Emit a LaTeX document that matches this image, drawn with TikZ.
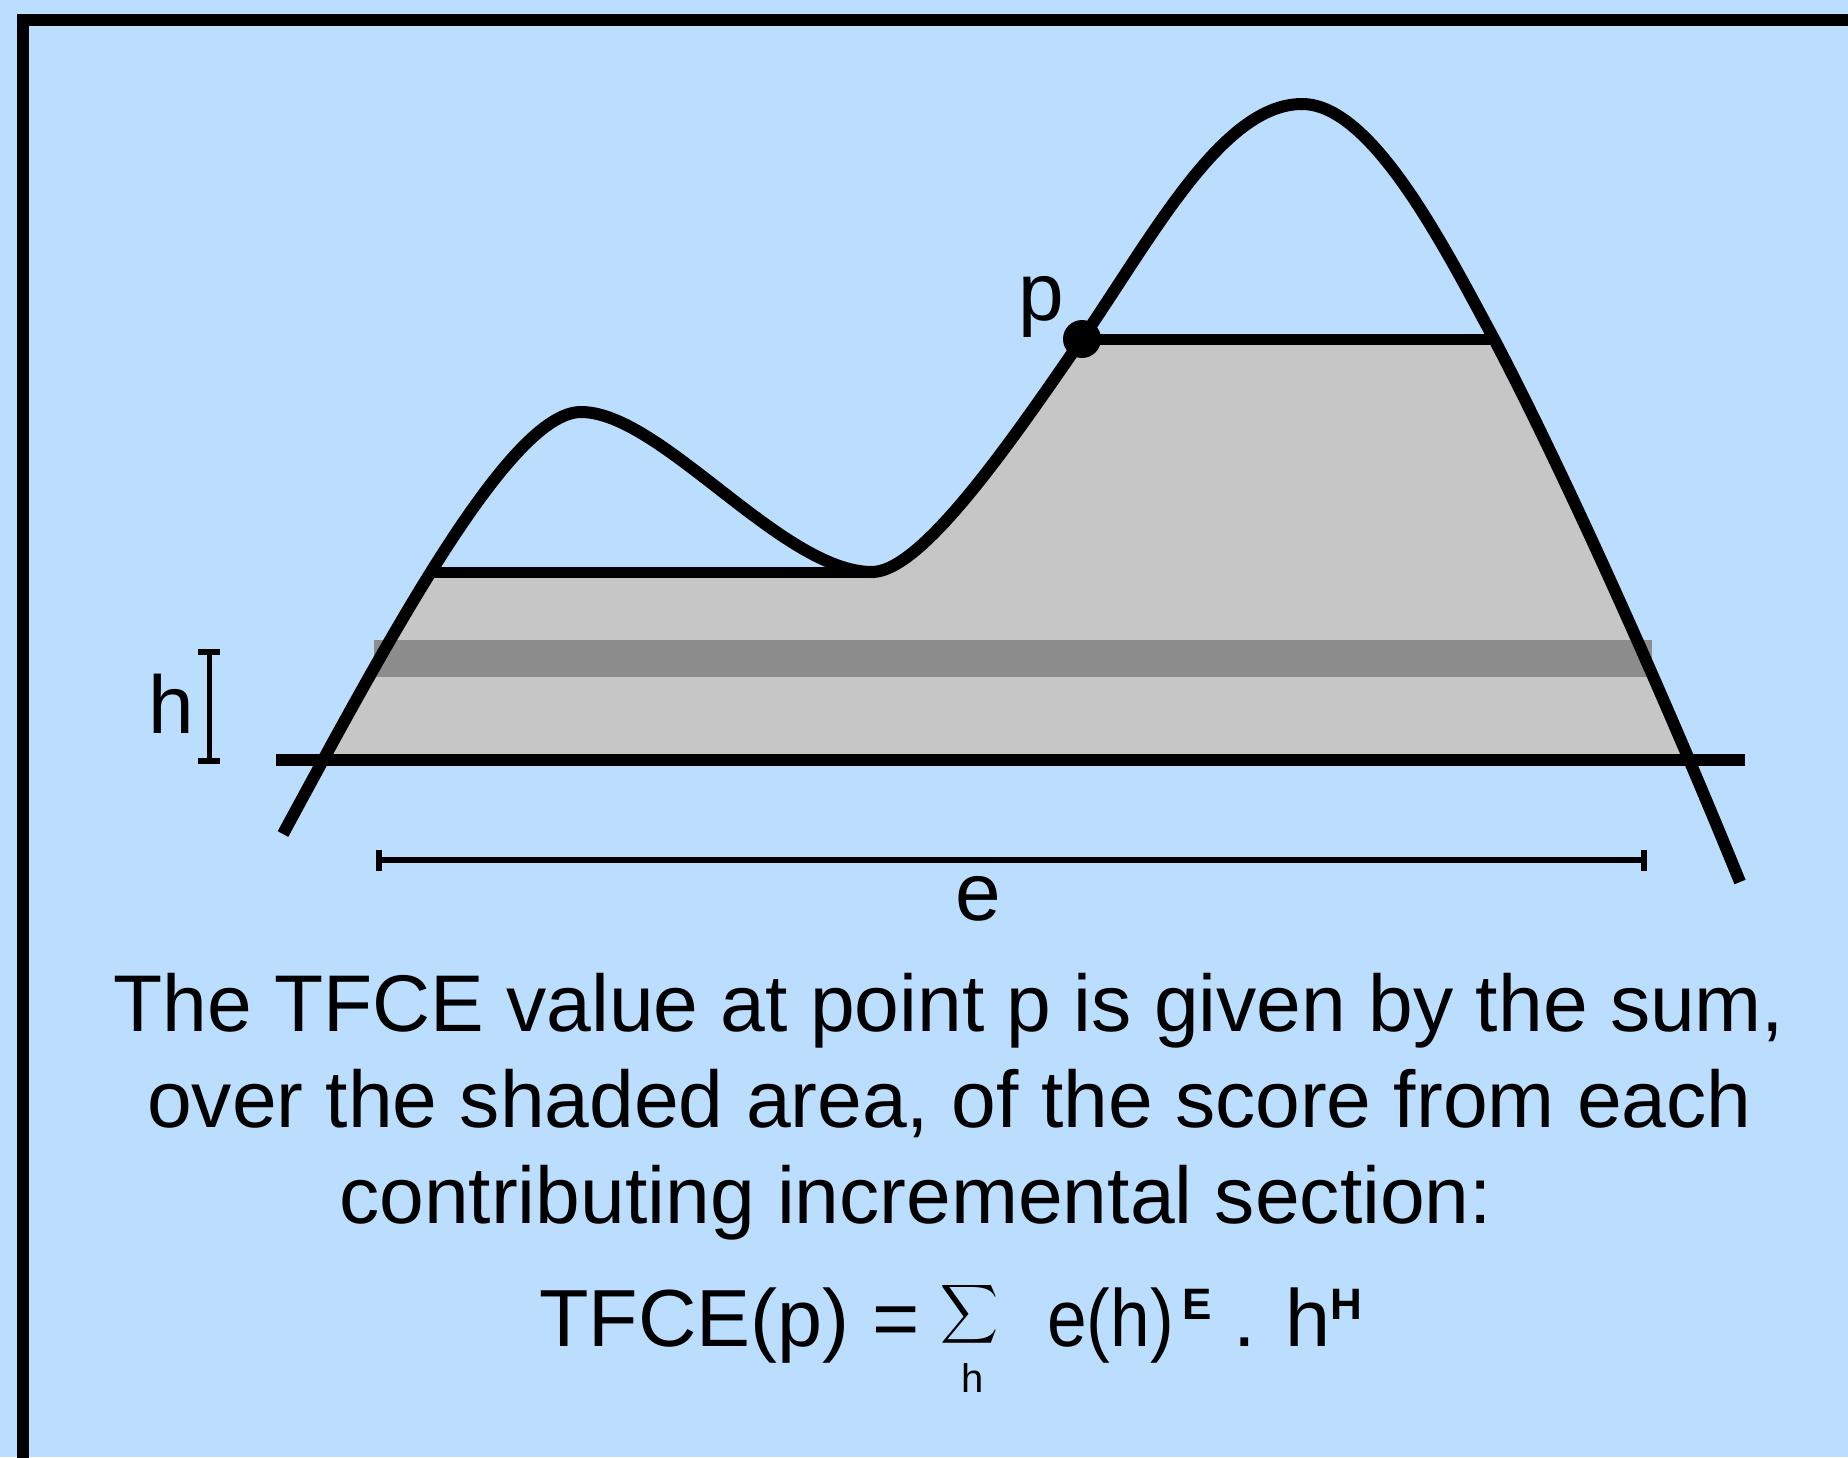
\documentclass[tikz,border=0pt]{standalone}
\usepackage{fontspec}
\setmainfont{Liberation Sans}
\usepackage{graphicx}
\definecolor{bgblue}{RGB}{188,222,254}
\definecolor{shadegray}{RGB}{198,198,198}
\definecolor{bandgray}{RGB}{141,141,141}
\begin{document}
\begin{tikzpicture}[x=1pt,y=-1pt,
  curveline/.style={line width=12pt, line join=round},
  levelline/.style={line width=11pt},
  lbl/.style={font=\fontsize{82}{98}\selectfont, inner sep=0pt},
  txt/.style={font=\fontsize{80.4}{97}\selectfont, inner sep=0pt},
  ftxt/.style={font=\fontsize{81}{97}\selectfont, inner sep=0pt},
  subtxt/.style={font=\fontsize{40}{40}\selectfont, inner sep=0pt},
  suptxt/.style={inner sep=0pt}]
\useasboundingbox (0,0) rectangle (1848,1457);
\clip (0,0) rectangle (1848,1457);
\fill[bgblue] (0,0) rectangle (1848,1457);
% frame
\draw[line width=12pt, line join=miter] (23.3,1480) -- (23.3,20.3) -- (1880,20.3);
% curve key points
\coordinate (c0) at (283,834);
\coordinate (lpk) at (581,412);
\coordinate (vly) at (872,572);
\coordinate (p) at (1082,339);
\coordinate (rpk) at (1302,104);
\coordinate (rl) at (1494,339);
\coordinate (c1) at (1740,882);
% shaded area
\begin{scope}
\clip (c0) .. controls (393,630.5) and (511,412) .. (lpk)
  .. controls (661,412) and (782,572) .. (vly)
  .. controls (922,572) and (1012,440.5) .. (p)
  .. controls (1152,237.5) and (1222,104) .. (rpk)
  .. controls (1372,104) and (1444,246.5) .. (rl)
  .. controls (1554,453) and (1650,661) .. (c1) -- cycle;
\fill[shadegray] (250,759.5) -- (250,572) -- (vly) -- (872,339) -- (1800,339) -- (1800,759.5) -- cycle;
\coordinate (ll) at (250,572);
\coordinate (ur) at (1800,339);
\draw[levelline] (ll) -- (vly);
\draw[levelline] (p) -- (ur);
\end{scope}
% dark band
\fill[bandgray] (374,640) rectangle (1652,677);
% baseline
\coordinate (b0) at (276,759.5);
\coordinate (b1) at (1745,759.5);
\draw[line width=12pt] (b0) -- (b1);
% curve
\draw[curveline] (c0) .. controls (393,630.5) and (511,412) .. (lpk)
  .. controls (661,412) and (782,572) .. (vly)
  .. controls (922,572) and (1012,440.5) .. (p)
  .. controls (1152,237.5) and (1222,104) .. (rpk)
  .. controls (1372,104) and (1444,246.5) .. (rl)
  .. controls (1554,453) and (1650,661) .. (c1);
\node[circle, fill=black, minimum size=38pt, inner sep=0pt] (pdot) at (p) {};
% h bracket
\coordinate (h0) at (209,652);
\coordinate (h1) at (209,761);
\draw[line width=5pt] (h0) -- (h1);
\draw[line width=6pt] ([xshift=-11pt]h0) -- ([xshift=11pt]h0);
\draw[line width=6pt] ([xshift=-11pt]h1) -- ([xshift=11pt]h1);
% e bar
\coordinate (e0) at (379,859.5);
\coordinate (e1) at (1644,859.5);
\draw[line width=6pt] (e0) -- (e1);
\draw[line width=6pt] ([yshift=-11pt]e0) -- ([yshift=10pt]e0);
\draw[line width=6pt] ([yshift=-11pt]e1) -- ([yshift=10pt]e1);
% labels
\node[lbl, anchor=base] (hl) at (171,733) {h};
\node[lbl, anchor=base] (pl) at (1041,320) {p};
\node[lbl, anchor=base] (el) at (978,920) {e};
% text
\node[txt, anchor=base west] (line1) at (113,1031) {The TFCE value at point p is given by the sum,};
\node[txt, anchor=base west] (line2) at (147,1127) {over the shaded area, of the score from each};
\node[txt, anchor=base west] (line3) at (339,1223) {contributing incremental section:};
% formula
\node[ftxt, anchor=base west] (f1) at (539,1346) {TFCE(p) =};
\node[inner sep=0pt] (sig) at (969,1314) {\resizebox*{58pt}{66pt}{$\displaystyle\sum$}};
\node[subtxt, anchor=base] (hsub) at (973,1392) {h};
\node[ftxt, anchor=base west] (f2) at (1047,1346) {\scalebox{0.88}[1]{e(h)}};
\node[suptxt, anchor=base west] (supE) at (1182,1319) {\fontsize{44}{44}\selectfont\bfseries E};
\node[ftxt, anchor=base west] (f3) at (1233,1346) {. h};
\node[suptxt, anchor=base west] (supH) at (1330,1319) {\fontsize{44}{44}\selectfont\bfseries H};
\end{tikzpicture}
\end{document}
